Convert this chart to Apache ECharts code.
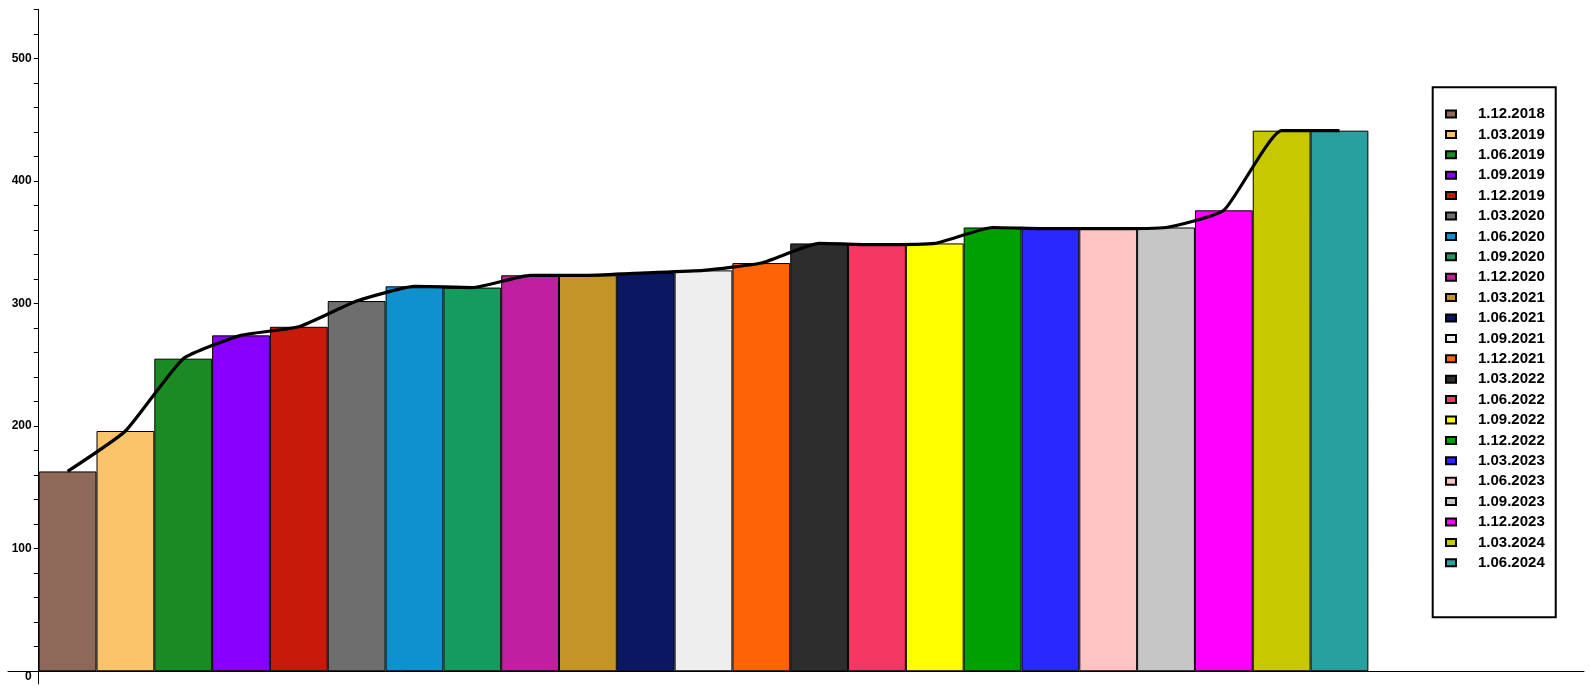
<!DOCTYPE html>
<html>
<head>
<meta charset="utf-8">
<script src="https://cdn.jsdelivr.net/npm/echarts@6/dist/echarts.min.js"></script>
<style>
html,body{margin:0;padding:0;background:#fff;}
#chart{width:1590px;height:688px;}
</style>
</head>
<body>
<div id="chart"></div>
<script>
const dates = ['1.12.2018','1.03.2019','1.06.2019','1.09.2019','1.12.2019','1.03.2020','1.06.2020','1.09.2020','1.12.2020','1.03.2021','1.06.2021','1.09.2021','1.12.2021','1.03.2022','1.06.2022','1.09.2022','1.12.2022','1.03.2023','1.06.2023','1.09.2023','1.12.2023','1.03.2024','1.06.2024'];
const values = [163,196,255,274,281,302,314,313,323,323,325,327,333,349,348,349,362,361,361,362,376,441,441];
const colors = ['#8E6858','#FBC36A','#1A8A22','#8800FF','#C81A0A','#6E6E6E','#0F91CD','#169B5E','#C020A0','#C49428','#0A1864','#EEEEEE','#FF6308','#2D2D2D','#F53764','#FFFF00','#00A000','#2828FF','#FFC3C3','#C6C6C6','#FF00FF','#C8C800','#28A0A0'];
const positions = [0.5,1.5,2.5,3.5,4.5,5.5,6.5,7.5,8.5,9.5,10.5,11.5,12.5,13.5,14.5,15.5,16.5,17.5,18.5,19.5,20.5,21.5,22.5];
const yLabelValues = [0,100,200,300,400,500];
const yTickValues = [0,20,40,60,80,100,120,140,160,180,200,220,240,260,280,300,320,340,360,380,400,420,440,460,480,500,520,540];

const FONT = 'Liberation Sans, Arial, sans-serif';

const barSeries = dates.map((d, i) => ({
  name: d,
  type: 'bar',
  stack: 'all',
  barWidth: '100%',
  data: [[positions[i], values[i]]],
  itemStyle: { color: colors[i], borderColor: '#000', borderWidth: 1 },
  emphasis: { disabled: true },
  animation: false
}));

const lineSeries = {
  name: 'trend',
  type: 'line',
  data: positions.map((p, i) => [p, values[i]]),
  smooth: 0.15,
  symbol: 'none',
  lineStyle: { color: '#000', width: 3.2 },
  z: 10,
  animation: false
};

const chart = echarts.init(document.getElementById('chart'), null, { renderer: 'canvas' });
chart.setOption({
  animation: false,
  backgroundColor: '#fff',
  grid: { left: 8, right: 6, top: 9.3, bottom: 4, containLabel: false, outerBoundsMode: 'none' },
  xAxis: {
    type: 'value',
    min: -0.531,
    max: 26.73,
    axisLine: { onZero: true, lineStyle: { color: '#000', width: 1 } },
    axisTick: { show: false },
    axisLabel: { show: false },
    splitLine: { show: false }
  },
  yAxis: {
    type: 'value',
    min: -10.4,
    max: 540,
    offset: -30.7,
    axisLine: { show: true, onZero: false, lineStyle: { color: '#000', width: 1 } },
    axisTick: { show: true, length: 5, customValues: yTickValues, lineStyle: { color: '#000' } },
    axisLabel: {
      customValues: yLabelValues,
      margin: 7,
      color: '#000',
      fontSize: 12,
      fontWeight: 'bold',
      fontFamily: FONT,
      formatter: v => v === 0 ? '{z|0}' : String(v),
      rich: { z: { padding: [10, 0, 0, 0], fontSize: 12, fontWeight: 'bold', color: '#000', fontFamily: FONT } }
    },
    splitLine: { show: false }
  },
  legend: {
    data: dates,
    orient: 'vertical',
    left: 1432.7,
    top: 87.3,
    itemWidth: 10,
    itemHeight: 7,
    itemGap: 5.4,
    icon: 'rect',
    padding: [19.2, 11, 46.9, 12.3],
    borderColor: '#000',
    borderWidth: 2,
    backgroundColor: '#fff',
    selectedMode: false,
    formatter: '{a|{name}}',
    textStyle: {
      color: '#000',
      fontSize: 15,
      fontWeight: 'bold',
      lineHeight: 15,
      fontFamily: FONT,
      rich: { a: { padding: [0, 0, 0, 17], fontSize: 15, fontWeight: 'bold', color: '#000', lineHeight: 15, fontFamily: FONT } }
    }
  },
  series: barSeries.concat([lineSeries])
});
</script>
</body>
</html>
